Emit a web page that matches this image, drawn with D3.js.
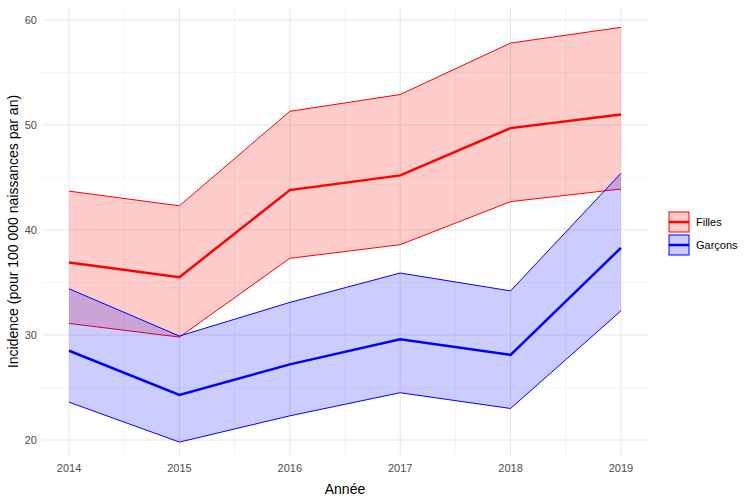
<!DOCTYPE html><html><head><meta charset="utf-8"><script src="https://cdn.jsdelivr.net/npm/d3@7"></script>
<style>body{margin:0;background:#fff}</style></head><body><svg id="c" width="754" height="502"></svg><script>
const years=[2014,2015,2016,2017,2018,2019];
const fillesMean=[36.9,35.5,43.8,45.2,49.7,51.0];
const fillesHi=[43.7,42.3,51.3,52.9,57.8,59.3];
const fillesLo=[31.1,29.8,37.3,38.6,42.7,43.9];
const garconsMean=[28.5,24.3,27.2,29.6,28.1,38.3];
const garconsHi=[34.4,29.9,33.1,35.9,34.2,45.4];
const garconsLo=[23.6,19.8,22.3,24.5,23.0,32.3];
const yTicks=[20,30,40,50,60];
const svg=d3.select("#c");
const L=42,R=648,T=8,B=455;
const x=d3.scaleLinear().domain([2013.755,2019.245]).range([L,R]);
const y=d3.scaleLinear().domain([18.57,61.14]).range([B,T]);
const g=svg.append("g");
// minor grid
[2014.5,2015.5,2016.5,2017.5,2018.5].forEach(v=>g.append("line").attr("x1",x(v)).attr("x2",x(v)).attr("y1",T).attr("y2",B).attr("stroke","#ebebeb").attr("stroke-width",0.5));
[25,35,45,55].forEach(v=>g.append("line").attr("x1",L).attr("x2",R).attr("y1",y(v)).attr("y2",y(v)).attr("stroke","#ebebeb").attr("stroke-width",0.5));
years.forEach(v=>g.append("line").attr("x1",x(v)).attr("x2",x(v)).attr("y1",T).attr("y2",B).attr("stroke","#e6e6e6").attr("stroke-width",1));
yTicks.forEach(v=>g.append("line").attr("x1",L).attr("x2",R).attr("y1",y(v)).attr("y2",y(v)).attr("stroke","#e6e6e6").attr("stroke-width",1));
function series(mean,lo,hi,col,fill){
 const idx=d3.range(years.length);
 g.append("path").attr("d",d3.area().x(i=>x(years[i])).y0(i=>y(lo[i])).y1(i=>y(hi[i]))(idx)).attr("fill",fill).attr("fill-opacity",0.2);
 [lo,hi].forEach(a=>g.append("path").attr("d",d3.line().x(i=>x(years[i])).y(i=>y(a[i]))(idx)).attr("fill","none").attr("stroke",col).attr("stroke-width",1));
 g.append("path").attr("d",d3.line().x(i=>x(years[i])).y(i=>y(mean[i]))(idx)).attr("fill","none").attr("stroke",col).attr("stroke-width",2.5);
}
series(fillesMean,fillesLo,fillesHi,"#ff0000","#ff0000");
series(garconsMean,garconsLo,garconsHi,"#0000ff","#0000ff");
const f="font-family:'Liberation Sans',Arial,sans-serif";
years.forEach(v=>svg.append("text").attr("x",x(v)).attr("y",B+17).attr("text-anchor","middle").attr("style",f).attr("font-size",11).attr("fill","#4d4d4d").text(v));
yTicks.forEach(v=>svg.append("text").attr("x",L-5).attr("y",y(v)+4).attr("text-anchor","end").attr("style",f).attr("font-size",11).attr("fill","#4d4d4d").text(v));
svg.append("text").attr("x",(L+R)/2).attr("y",494).attr("text-anchor","middle").attr("style",f).attr("font-size",14).text("Année");
svg.append("text").attr("transform",`translate(18,${(T+B)/2}) rotate(-90)`).attr("text-anchor","middle").attr("style",f).attr("font-size",14).text("Incidence (pour 100 000 naissances par an)");
[["Filles","#ff0000",222],["Garçons","#0000ff",245]].forEach(([n,c,cy])=>{
 svg.append("rect").attr("x",669).attr("y",cy-10).attr("width",20).attr("height",20).attr("fill",c).attr("fill-opacity",0.2).attr("stroke",c);
 svg.append("line").attr("x1",669).attr("x2",689).attr("y1",cy).attr("y2",cy).attr("stroke",c).attr("stroke-width",2.5);
 svg.append("text").attr("x",696).attr("y",cy+4).attr("style",f).attr("font-size",11).text(n);
});
</script></body></html>
